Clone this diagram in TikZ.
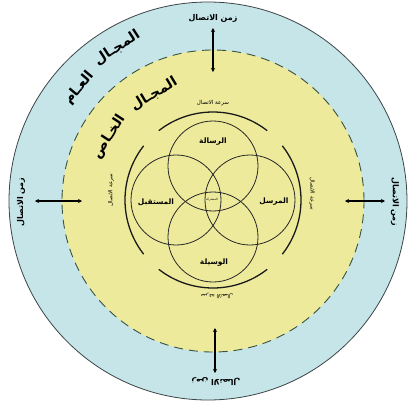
\documentclass[tikz,border=0pt]{standalone}
\usepackage{fontspec}
\usepackage{tikz}
\usetikzlibrary{arrows.meta}
\newfontfamily\arabicfont[Script=Arabic]{DejaVu Sans}
\TeXXeTstate=1
\newcommand{\artxt}[1]{\arabicfont\beginR #1\endR}
\definecolor{publicblue}{RGB}{197,229,233}
\definecolor{privyellow}{RGB}{237,234,156}
\definecolor{dashgreen}{RGB}{55,82,66}
\definecolor{rimgray}{RGB}{60,68,70}

\begin{document}
\begin{tikzpicture}[
    x=1bp, y=1bp,
    >=Stealth,
    field/.style={font=\fontsize{14}{15}\selectfont\bfseries, inner sep=0pt},
    timelbl/.style={font=\fontsize{8}{9}\selectfont\bfseries, inner sep=0pt},
    speedlbl/.style={font=\fontsize{5.5}{6}\selectfont, inner sep=0pt},
    part/.style={font=\fontsize{7.5}{8}\selectfont\bfseries, inner sep=0pt},
    venn/.style={draw=black!85, line width=0.8pt},
    speedarc/.style={draw=black!90, line width=1.3pt},
    arr/.style={<->, line width=1.6pt, >={Stealth[length=4pt,width=4pt]}},
]
\useasboundingbox (-213,-202) rectangle (198,200);

% Public field
\fill[publicblue, draw=rimgray, line width=0.8pt] (-5,-1) circle (199);

% Private field
\fill[privyellow] (0,-1) circle (151);
\draw[dashgreen, dash pattern=on 9pt off 6pt, line width=0.9pt] (0,-1) circle (151);

% Field titles
\node[field, rotate=33] (pub1) at (-96,152) {\artxt{المجـال}};
\node[field, rotate=50] (pub2) at (-134,112) {\artxt{العـام}};
\node[field, rotate=31] (priv1) at (-59,106) {\artxt{المجـال}};
\node[field, rotate=57] (priv2) at (-104,63) {\artxt{الخـاص}};

% Venn circles
\draw[venn] (0,34) circle (45);
\draw[venn] (-37,0) circle (45);
\draw[venn] (37,0) circle (45);
\draw[venn] (0,-37) circle (45);

% Venn labels
\node[part] (msg) at (0,58) {\artxt{الرسالة}};
\node[part] (recv) at (-57,-2) {\artxt{المستقبل}};
\node[part] (send) at (61,-2) {\artxt{المرسل}};
\node[part] (medium) at (1,-63) {\artxt{الوسيلة}};
\node[font=\fontsize{3}{3}\selectfont, inner sep=0pt] (core) at (-1,0) {\artxt{المشتركة}};

% Speed arcs
\draw[speedarc] (52:88) arc (52:128:88);
\draw[speedarc] (142:88) arc (142:218:88);
\draw[speedarc] (-38:88) arc (-38:38:88);
\draw[speedarc] (232:88) arc (232:308:88);

% Speed labels
\node[speedlbl] (spTop) at (0,97) {\artxt{سرعة الاتصال}};
\node[speedlbl, rotate=90] (spLeft) at (-102,10) {\artxt{سرعة الاتصال}};
\node[speedlbl, rotate=-90] (spRight) at (99,6) {\artxt{سرعة الاتصال}};
\node[speedlbl, rotate=180] (spBot) at (4,-96) {\artxt{سرعة الاتصال}};

% Time labels
\node[timelbl] (tTop) at (0,182) {\artxt{زمن الاتصال}};
\node[timelbl, rotate=180] (tBot) at (3,-182) {\artxt{زمن الاتصال}};
\node[timelbl, rotate=90] (tLeft) at (-192,-2) {\artxt{زمن الاتصال}};
\node[timelbl, rotate=-90] (tRight) at (182,-2) {\artxt{زمن الاتصال}};

% Time arrows
\coordinate (topOut) at (0,172);
\coordinate (topIn) at (0,128);
\coordinate (botOut) at (2,-173);
\coordinate (botIn) at (2,-128);
\coordinate (leftOut) at (-178,-1);
\coordinate (leftIn) at (-131,-1);
\coordinate (rightOut) at (172,-1);
\coordinate (rightIn) at (132,-1);
\draw[arr] (topOut) -- (topIn);
\draw[arr] (botOut) -- (botIn);
\draw[arr] (leftOut) -- (leftIn);
\draw[arr] (rightOut) -- (rightIn);

\end{tikzpicture}
\end{document}
